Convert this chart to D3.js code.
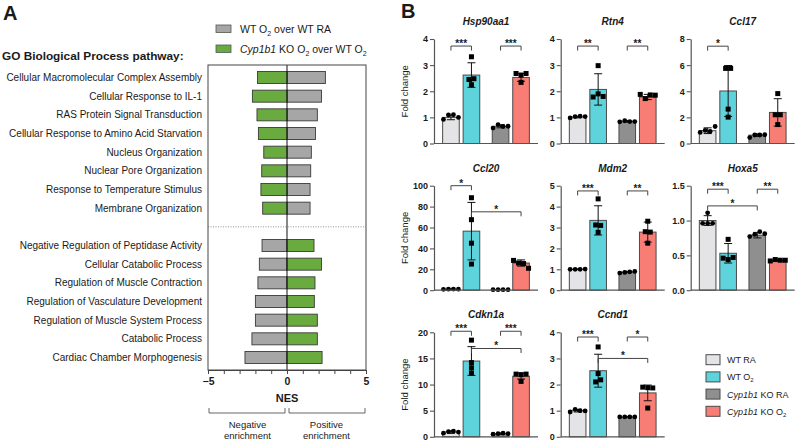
<!DOCTYPE html>
<html>
<head>
<meta charset="utf-8">
<script src="https://cdn.jsdelivr.net/npm/d3@7"></script>
<style>
  body { margin: 0; background: #fff; }
  text { font-family: "Liberation Sans", Arial, sans-serif; fill: #1a1a1a; }
</style>
</head>
<body>
<svg id="chart" width="798" height="442"></svg>
<script>
// ---- panel A: GO pathways, NES values ----
const pathwaysUp = [
  "Cellular Macromolecular Complex Assembly",
  "Cellular Response to IL-1",
  "RAS Protein Signal Transduction",
  "Cellular Response to Amino Acid Starvation",
  "Nucleus Organization",
  "Nuclear Pore Organization",
  "Response to Temperature Stimulus",
  "Membrane Organization"
];
const pathwaysDown = [
  "Negative Regulation of Peptidase Activity",
  "Cellular Catabolic Process",
  "Regulation of Muscle Contraction",
  "Regulation of Vasculature Development",
  "Regulation of Muscle System Process",
  "Catabolic Process",
  "Cardiac Chamber Morphogenesis"
];
const nesWtUp = [2.43, 2.18, 1.92, 1.80, 1.54, 1.50, 1.46, 1.46];
const nesKoUp = [-1.87, -2.19, -1.90, -1.81, -1.47, -1.60, -1.65, -1.54];
const nesWtDown = [-1.58, -1.75, -1.84, -2.00, -2.00, -2.22, -2.66];
const nesKoDown = [1.71, 2.18, 1.77, 1.73, 1.92, 1.92, 2.22];
const nesTicks = [-5, 0, 5];

// ---- panel B: qPCR fold change ----
const groups = ["WT RA", "WT O2", "KO RA", "KO O2"];
const genes = ["Hsp90aa1", "Rtn4", "Ccl17", "Ccl20", "Mdm2", "Hoxa5", "Cdkn1a", "Ccnd1"];
const yMax = [4, 4, 8, 100, 5, 1.5, 20, 4];
const yStep = [1, 1, 2, 20, 1, 0.5, 5, 1];
const means = [
  [1.00, 2.62, 0.66, 2.53],
  [1.01, 2.07, 0.85, 1.78],
  [0.98, 4.02, 0.64, 2.38],
  [1.00, 56.5, 0.60, 26.0],
  [1.00, 3.34, 0.87, 2.78],
  [1.00, 0.53, 0.79, 0.43],
  [0.90, 14.5, 0.60, 11.6],
  [1.00, 2.53, 0.76, 1.68]
];
const sds = [
  [0.09, 0.47, 0.06, 0.15],
  [0.03, 0.60, 0.03, 0.10],
  [0.22, 1.95, 0.10, 1.05],
  [0.30, 27.5, 0.20, 3.00],
  [0.02, 0.70, 0.03, 0.48],
  [0.07, 0.14, 0.04, 0.01],
  [0.25, 2.75, 0.15, 0.55],
  [0.05, 0.63, 0.01, 0.30]
];
const points = [
  [[0.92, 1.09, 1.10, 1.00], [2.25, 3.32, 2.45, 2.48], [0.59, 0.72, 0.65, 0.66], [2.68, 2.62, 2.34, 2.68]],
  [[0.98, 1.03, 1.05, 1.03], [1.78, 1.90, 2.98, 1.80], [0.83, 0.87, 0.84, 0.84], [1.88, 1.72, 1.86, 1.85]],
  [[0.85, 1.00, 0.92, 1.30], [5.75, 2.63, 2.02, 5.75], [0.45, 0.65, 0.65, 0.67], [2.20, 3.82, 1.45, 2.20]],
  [[0.80, 1.00, 1.10, 1.00], [88.5, 67.5, 45.0, 25.0], [0.50, 0.50, 0.50, 0.50], [28.5, 26.0, 25.5, 21.0]],
  [[1.00, 1.00, 1.00, 1.01], [4.37, 3.12, 3.10, 2.77], [0.82, 0.85, 0.88, 0.90], [3.30, 2.80, 2.78, 2.25]],
  [[1.11, 0.96, 0.96, 0.96], [0.73, 0.46, 0.44, 0.47], [0.77, 0.80, 0.84, 0.81], [0.42, 0.44, 0.43, 0.43]],
  [[0.70, 1.00, 1.10, 0.90], [18.5, 14.2, 13.2, 12.2], [0.50, 0.60, 0.70, 0.60], [12.0, 11.9, 12.0, 10.6]],
  [[0.95, 1.05, 1.00, 0.99], [3.44, 2.42, 2.10, 2.18], [0.76, 0.76, 0.76, 0.76], [1.90, 1.88, 1.87, 1.10]]
];
// [group a, group b, height in data units, label]
const sigs = [
  [[0, 1, 3.73, "***"], [2, 3, 3.73, "***"]],
  [[0, 1, 3.73, "**"], [2, 3, 3.73, "**"]],
  [[0, 1, 7.45, "*"]],
  [[0, 1, 100, "*"], [1, 3, 75, "*"]],
  [[0, 1, 4.75, "***"], [2, 3, 4.75, "**"]],
  [[0, 1, 1.45, "***"], [2, 3, 1.45, "**"], [0, 2, 1.21, "*"]],
  [[0, 1, 20.2, "***"], [2, 3, 20.2, "***"], [1, 3, 16.9, "*"]],
  [[0, 1, 3.82, "***"], [2, 3, 3.82, "*"], [1, 3, 3.0, "*"]]
];

const grey = "#a6a6a6", green = "#6aab40";
const barColors = ["#e4e4e6", "#5ed3dc", "#8f8f8f", "#f87d74"];
const edge = "#4a4a4a";

const svg = d3.select("#chart");
svg.append("rect").attr("width", 798).attr("height", 442).attr("fill", "#fff");

// =============== Panel A ===============
svg.append("text").attr("x", 3).attr("y", 20)
  .style("font-size", "20px").style("font-weight", "bold").text("A");

svg.append("text").attr("x", 2).attr("y", 60)
  .style("font-size", "11.8px").style("font-weight", "bold")
  .text("GO Biological Process pathway:");

const boxA = { left: 208, right: 366, top: 65, bottom: 370 };
const xA = d3.scaleLinear().domain([-5, 5]).range([boxA.left, boxA.right]);
const rowKeys = [...pathwaysUp, "__gap__", ...pathwaysDown];
const yA = d3.scalePoint().domain(rowKeys).range([boxA.top, boxA.bottom]).padding(0.67);
const barH = 12;

const rowsA = [
  ...pathwaysUp.map((p, i) => ({ p, wt: nesWtUp[i], ko: nesKoUp[i] })),
  ...pathwaysDown.map((p, i) => ({ p, wt: nesWtDown[i], ko: nesKoDown[i] }))
];

const gA = svg.append("g");
rowsA.forEach(d => {
  [["wt", grey], ["ko", green]].forEach(([k, c]) => {
    gA.append("rect")
      .attr("x", Math.min(xA(0), xA(d[k])))
      .attr("y", yA(d.p) - barH / 2)
      .attr("width", Math.abs(xA(d[k]) - xA(0)))
      .attr("height", barH)
      .attr("fill", c).attr("stroke", "#3a3a3a").attr("stroke-width", 0.9);
  });
  gA.append("text")
    .attr("x", boxA.left - 6).attr("y", yA(d.p) + 3.6)
    .attr("text-anchor", "end").style("font-size", "10px")
    .text(d.p);
});

gA.append("line")
  .attr("x1", boxA.left).attr("x2", boxA.right)
  .attr("y1", yA("__gap__")).attr("y2", yA("__gap__"))
  .attr("stroke", "#777").attr("stroke-width", 0.8).attr("stroke-dasharray", "1,1.5");

gA.append("line")
  .attr("x1", xA(0)).attr("x2", xA(0))
  .attr("y1", boxA.top).attr("y2", boxA.bottom)
  .attr("stroke", "#111").attr("stroke-width", 1);

gA.append("rect")
  .attr("x", boxA.left).attr("y", boxA.top)
  .attr("width", boxA.right - boxA.left).attr("height", boxA.bottom - boxA.top)
  .attr("fill", "none").attr("stroke", "#444").attr("stroke-width", 1);

const axA = gA.append("g")
  .attr("transform", `translate(0,${boxA.bottom})`)
  .call(d3.axisBottom(xA).ticks(10).tickSize(4).tickSizeOuter(0)
    .tickFormat(d => nesTicks.includes(d) ? d3.format("d")(d) : ""));
axA.select(".domain").attr("stroke", "#444");
axA.selectAll(".tick line").attr("stroke", "#444");
axA.selectAll(".tick text")
  .attr("y", 8).style("font-size", "10.5px").style("font-weight", "bold")
  .style("font-family", "'Liberation Sans', Arial, sans-serif").attr("fill", "#1a1a1a");

gA.append("text").attr("x", xA(0)).attr("y", 402)
  .attr("text-anchor", "middle").style("font-size", "11px").style("font-weight", "bold").text("NES");

[[-5, 0, "Negative", "enrichment"], [0, 5, "Positive", "enrichment"]].forEach(([a, b, l1, l2]) => {
  const x1 = xA(a) + (a === 0 ? 2 : 1), x2 = xA(b) - (b === 0 ? 2 : 1);
  gA.append("path")
    .attr("d", `M${x1},408 V413 H${x2} V408`)
    .attr("fill", "none").attr("stroke", "#555").attr("stroke-width", 0.9);
  const cx = (xA(a) + xA(b)) / 2;
  gA.append("text").attr("x", cx).attr("y", 428).attr("text-anchor", "middle")
    .style("font-size", "9.5px").text(l1);
  gA.append("text").attr("x", cx).attr("y", 438.5).attr("text-anchor", "middle")
    .style("font-size", "9.5px").text(l2);
});

// legend A
const legA = svg.append("g");
[[grey, false], [green, true]].forEach(([c, ko], i) => {
  const y = 25 + i * 20;
  legA.append("rect").attr("x", 216).attr("y", y).attr("width", 15).attr("height", 7.5)
    .attr("fill", c).attr("stroke", "#555").attr("stroke-width", 0.8);
  const t = legA.append("text").attr("x", 240).attr("y", y + 8).style("font-size", "10.5px");
  if (ko) {
    t.append("tspan").style("font-style", "italic").text("Cyp1b1");
    t.append("tspan").text(" KO O");
    t.append("tspan").attr("dy", 2.5).style("font-size", "7px").text("2");
    t.append("tspan").attr("dy", -2.5).text(" over WT O");
    t.append("tspan").attr("dy", 2.5).style("font-size", "7px").text("2");
  } else {
    t.append("tspan").text("WT O");
    t.append("tspan").attr("dy", 2.5).style("font-size", "7px").text("2");
    t.append("tspan").attr("dy", -2.5).text(" over WT RA");
  }
});

// =============== Panel B ===============
svg.append("text").attr("x", 401).attr("y", 18)
  .style("font-size", "20px").style("font-weight", "bold").text("B");

const colX = [434, 560.7, 690.7];
const rowTop = [39, 185.7, 332.3];
const plotH = 104.5, plotW = 104;

genes.forEach((gene, gi) => {
  const col = gi % 3, row = Math.floor(gi / 3);
  const g = svg.append("g").attr("transform", `translate(${colX[col]},${rowTop[row]})`);

  const xOuter = d3.scaleBand().domain(["WT", "KO"]).range([0, plotW])
    .paddingInner(0.252).paddingOuter(0.174);
  const xInner = d3.scaleBand().domain(["RA", "O2"]).range([0, xOuter.bandwidth()])
    .paddingInner(0.19);
  const bx = i => xOuter(i < 2 ? "WT" : "KO") + xInner(i % 2 === 0 ? "RA" : "O2");
  const bw = xInner.bandwidth();
  const cx = i => bx(i) + bw / 2;
  const y = d3.scaleLinear().domain([0, yMax[gi]]).range([plotH, 0]);

  // bars
  g.selectAll("rect.bar").data(means[gi]).enter().append("rect")
    .attr("class", "bar")
    .attr("x", (d, i) => bx(i))
    .attr("y", d => y(d))
    .attr("width", bw)
    .attr("height", d => y(0) - y(d))
    .attr("fill", (d, i) => barColors[i])
    .attr("stroke", edge).attr("stroke-width", 1);

  // error bars (mean ± SD)
  means[gi].forEach((m, i) => {
    const s = sds[gi][i];
    const lo = y(Math.max(0, m - s)), hi = y(m + s);
    g.append("path")
      .attr("d", `M${cx(i)},${lo} V${hi} M${cx(i) - 4},${hi} H${cx(i) + 4} M${cx(i) - 4},${lo} H${cx(i) + 4}`)
      .attr("fill", "none").attr("stroke", "#111").attr("stroke-width", 1);
  });

  // individual points, spread sideways when they collide
  points[gi].forEach((vals, i) => {
    const py = vals.map(v => y(v));
    const order = d3.range(vals.length).sort((a, b) => py[a] - py[b]);
    const clusters = [];
    order.forEach(k => {
      const last = clusters[clusters.length - 1];
      if (last && Math.abs(py[k] - py[last[last.length - 1]]) < 5) last.push(k);
      else clusters.push([k]);
    });
    clusters.forEach(cl => {
      cl.sort((a, b) => a - b).forEach((k, j) => {
        const px = cx(i) + (j - (cl.length - 1) / 2) * 5;
        if (i % 2 === 0) {
          g.append("circle").attr("cx", px).attr("cy", py[k]).attr("r", 2.4).attr("fill", "#000");
        } else {
          g.append("rect").attr("x", px - 2.5).attr("y", py[k] - 2.5)
            .attr("width", 5).attr("height", 5).attr("fill", "#000");
        }
      });
    });
  });

  // axes
  const ticks = d3.range(0, yMax[gi] + yStep[gi] / 2, yStep[gi]);
  const ay = g.append("g").call(d3.axisLeft(y).tickValues(ticks).tickSize(4).tickSizeOuter(0)
    .tickFormat(yStep[gi] < 1 ? d3.format(".1f") : d3.format("d")));
  ay.select(".domain").attr("stroke", "#555").attr("stroke-width", 1.2);
  ay.selectAll(".tick line").attr("stroke", "#555").attr("stroke-width", 1.1);
  ay.selectAll(".tick text").attr("x", -6)
    .style("font-size", "9px").style("font-weight", "bold")
    .style("font-family", "'Liberation Sans', Arial, sans-serif").attr("fill", "#1a1a1a");

  g.append("line").attr("x1", 0).attr("x2", plotW).attr("y1", y(0)).attr("y2", y(0))
    .attr("stroke", "#555").attr("stroke-width", 1.2);

  // significance brackets
  sigs[gi].forEach(([a, b, v, lab]) => {
    const yy = y(v);
    g.append("path")
      .attr("d", `M${cx(a)},${yy + 4.5} V${yy} H${cx(b)} V${yy + 4.5}`)
      .attr("fill", "none").attr("stroke", "#444").attr("stroke-width", 1);
    g.append("text").attr("x", (cx(a) + cx(b)) / 2).attr("y", yy + 1)
      .attr("text-anchor", "middle").style("font-size", "10px").style("font-weight", "bold")
      .text(lab);
  });

  // title
  g.append("text").attr("x", plotW / 2).attr("y", -14)
    .attr("text-anchor", "middle").style("font-size", "10px")
    .style("font-weight", "bold").style("font-style", "italic").text(gene);

  if (col === 0) {
    g.append("text")
      .attr("transform", `translate(${408 - colX[0]},${plotH / 2}) rotate(-90)`)
      .attr("text-anchor", "middle").style("font-size", "9.5px").text("Fold change");
  }
});

// legend B
const legB = svg.append("g");
groups.forEach((grp, i) => {
  const y = 354.7 + i * 17.2;
  legB.append("rect").attr("x", 706).attr("y", y).attr("width", 14).attr("height", 10)
    .attr("fill", barColors[i]).attr("stroke", edge).attr("stroke-width", 1);
  const t = legB.append("text").attr("x", 727).attr("y", y + 8.5).style("font-size", "9px");
  const ko = grp.startsWith("KO");
  if (ko) {
    t.append("tspan").style("font-style", "italic").text("Cyp1b1");
    t.append("tspan").text(" ");
  }
  if (grp.endsWith("O2")) {
    t.append("tspan").text(grp.replace("O2", "O"));
    t.append("tspan").attr("dy", 2).style("font-size", "6px").text("2");
  } else {
    t.append("tspan").text(grp);
  }
});
</script>
</body>
</html>
